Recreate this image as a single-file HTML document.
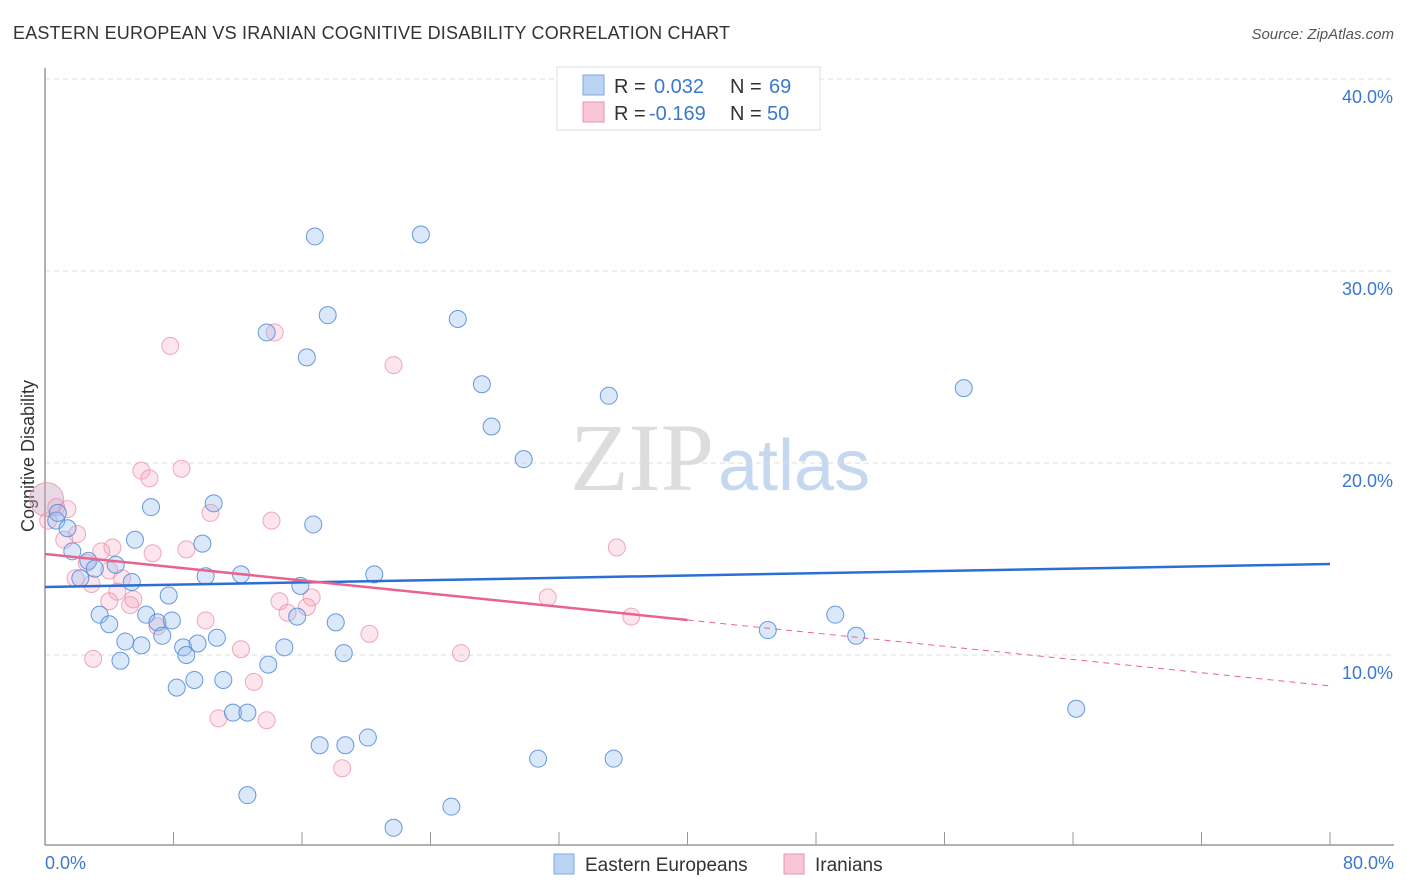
<!DOCTYPE html>
<html><head><meta charset="utf-8"><style>
body{margin:0;background:#fff;font-family:"Liberation Sans",sans-serif;}
svg{display:block}
</style></head><body>
<svg id="chart" width="1406" height="892">
<text x="13" y="39" font-size="18" fill="#333" textLength="717">EASTERN EUROPEAN VS IRANIAN COGNITIVE DISABILITY CORRELATION CHART</text>
<text x="1394" y="39" font-size="15" font-style="italic" fill="#555" text-anchor="end">Source: ZipAtlas.com</text>
<text x="714" y="490" font-size="96" font-family="Liberation Serif" fill="#ddd" text-anchor="end">ZIP</text>
<text x="718" y="490" font-size="72" fill="#c5d8ef">atlas</text>
<g id="grid"></g>
<line x1="45" y1="68" x2="45" y2="845" stroke="#999" stroke-width="1.5"/>
<line x1="45" y1="845" x2="1394" y2="845" stroke="#999" stroke-width="1.5"/>
<text transform="translate(34,456) rotate(-90)" font-size="18" fill="#333" text-anchor="middle">Cognitive Disability</text>
<text x="45" y="869" font-size="18" fill="#3b78d0">0.0%</text>
<text x="1394" y="869" font-size="18" fill="#3b78d0" text-anchor="end">80.0%</text>
<g id="points"></g>
<g id="lines"></g>
<g>
<rect x="557" y="67" width="263" height="63" fill="#fff" stroke="#ddd"/>
<rect x="583" y="75" width="21" height="20" fill="#bcd4f4" stroke="#7aa7e6"/>
<rect x="583" y="102" width="21" height="20" fill="#f9c6d5" stroke="#ec93ad"/>
<text x="614" y="93" font-size="20" fill="#333">R = </text><text x="654" y="93" font-size="20" fill="#3b78d0">0.032</text>
<text x="730" y="93" font-size="20" fill="#333">N = </text><text x="769" y="93" font-size="20" fill="#3b78d0">69</text>
<text x="614" y="120" font-size="20" fill="#333">R = </text><text x="649" y="120" font-size="20" fill="#3b78d0">-0.169</text>
<text x="730" y="120" font-size="20" fill="#333">N = </text><text x="767" y="120" font-size="20" fill="#3b78d0">50</text>
</g>
<g>
<rect x="554" y="854" width="20" height="20" fill="#bcd4f4" stroke="#7aa7e6"/>
<text x="585" y="871" font-size="19" fill="#333">Eastern Europeans</text>
<rect x="784" y="854" width="20" height="20" fill="#f9c6d5" stroke="#ec93ad"/>
<text x="815" y="871" font-size="19" fill="#333">Iranians</text>
</g>
</svg>
<script>
const yTicks=[10,20,30,40];
const yTickLabels=["10.0%","20.0%","30.0%","40.0%"];
const xTicks=[0,8,16,24,32,40,48,56,64,72,80];
const blueX=[16.8,23.4,17.6,25.7,13.8,16.3,27.2,35.1,57.2,27.8,29.8,6.6,10.5,16.7,0.7,0.8,1.4,5.6,9.8,1.7,2.7,4.4,3.1,2.2,5.4,10.0,12.2,20.5,15.9,7.7,3.4,4.0,6.3,7.0,7.9,15.7,18.1,5.0,6.0,7.3,8.6,9.5,10.7,14.9,8.8,4.7,13.9,18.6,9.3,11.1,8.2,11.7,12.6,17.1,18.7,20.1,30.7,35.4,12.6,25.3,21.7,45.0,49.2,50.5,64.2];
const blueY=[31.8,31.9,27.7,27.5,26.8,25.5,24.1,23.5,23.9,21.9,20.2,17.7,17.9,16.8,17.0,17.4,16.6,16.0,15.8,15.4,14.9,14.7,14.5,14.0,13.8,14.1,14.2,14.2,13.6,13.1,12.1,11.6,12.1,11.7,11.8,12.0,11.7,10.7,10.5,11.0,10.4,10.6,10.9,10.4,10.0,9.7,9.5,10.1,8.7,8.7,8.3,7.0,7.0,5.3,5.3,5.7,4.6,4.6,2.7,2.1,1.0,11.3,12.1,11.0,7.2];
const pinkX=[7.8,14.3,21.7,6.0,8.5,6.5,0.7,1.4,0.2,10.3,14.1,2.0,1.2,4.2,3.5,6.7,8.8,35.6,2.6,4.0,4.8,1.9,2.9,4.5,5.5,5.3,4.0,14.6,16.6,16.3,15.1,31.3,10.0,7.0,20.2,12.2,36.5,3.0,25.9,10.8,13.8,13.0,18.5];
const pinkY=[26.1,26.8,25.1,19.6,19.7,19.2,17.7,17.6,17.0,17.4,17.0,16.3,16.0,15.6,15.4,15.3,15.5,15.6,14.8,14.4,14.0,14.0,13.7,13.3,12.9,12.6,12.8,12.8,13.0,12.5,12.2,13.0,11.8,11.5,11.1,10.3,12.0,9.8,10.1,6.7,6.6,8.6,4.1];
const bigPink=[0.1,18.1];
const blueTrend=[13.54,14.74];
const pinkTrend=[15.26,8.39];
const pinkSolidEnd=40;
const NS="http://www.w3.org/2000/svg";
const sx=v=>45+v*(1285/80);
const sy=v=>847-v*19.2;
function mk(t,a,p){const e=document.createElementNS(NS,t);for(const k in a)e.setAttribute(k,a[k]);p.appendChild(e);return e;}
const grid=document.getElementById('grid');
yTicks.forEach((t,i)=>{
 const l=mk('line',{x1:45,x2:1394,y1:sy(t),y2:sy(t),stroke:'#ddd','stroke-dasharray':'5,4'},grid);
 
 
 const tx=mk('text',{x:1393,y:sy(t)+24,'font-size':18,fill:'#3b78d0','text-anchor':'end'},grid);
 tx.textContent=yTickLabels[i];
 
 
});
xTicks.forEach(t=>{
 const l=mk('line',{x1:sx(t),x2:sx(t),y1:832,y2:845,stroke:'#999'},grid);
 
 
});
const pts=document.getElementById('points');
pinkX.forEach((x,i)=>{
 const c=mk('circle',{cx:sx(x),cy:sy(pinkY[i]),r:8.5,fill:'rgba(245,160,185,0.28)',stroke:'rgba(236,147,173,0.8)','stroke-width':1},pts);
 
 
});
const bp=mk('circle',{cx:sx(bigPink[0]),cy:sy(bigPink[1]),r:17,fill:'rgba(200,160,190,0.4)',stroke:'rgba(236,147,173,0.8)','stroke-width':1},pts);


blueX.forEach((x,i)=>{
 const c=mk('circle',{cx:sx(x),cy:sy(blueY[i]),r:8.5,fill:'rgba(150,190,240,0.35)',stroke:'rgba(79,136,216,0.85)','stroke-width':1},pts);
 
 
});
const ln=document.getElementById('lines');
const pAt=x=>pinkTrend[0]+(pinkTrend[1]-pinkTrend[0])*x/80;
const b=mk('line',{x1:sx(0),y1:sy(blueTrend[0]),x2:sx(80),y2:sy(blueTrend[1]),stroke:'#2b6fd6','stroke-width':2.5},ln);


const p1=mk('line',{x1:sx(0),y1:sy(pAt(0)),x2:sx(pinkSolidEnd),y2:sy(pAt(pinkSolidEnd)),stroke:'#e8648e','stroke-width':2.5},ln);


const p2=mk('line',{x1:sx(pinkSolidEnd),y1:sy(pAt(pinkSolidEnd)),x2:sx(80),y2:sy(pAt(80)),stroke:'#e8648e','stroke-width':1,'stroke-dasharray':'6,5'},ln);


</script>
</body></html>
